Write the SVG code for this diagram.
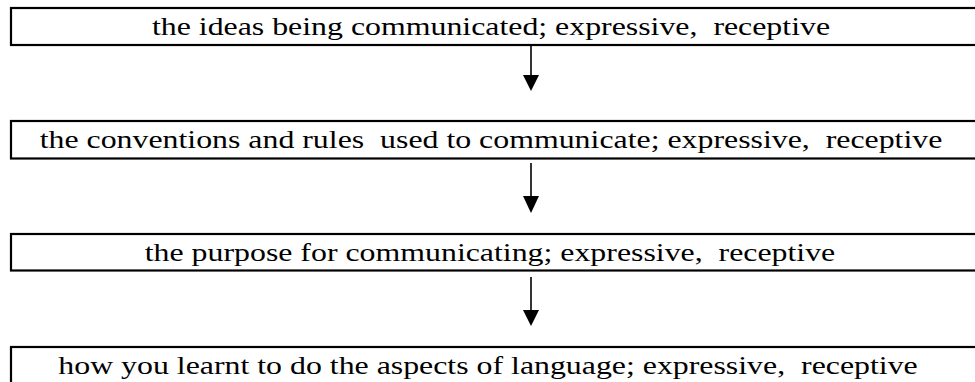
<svg xmlns="http://www.w3.org/2000/svg" width="975" height="382" viewBox="0 0 975 382">
<style>
.box{fill:#fff;stroke:#000;stroke-width:2.2}
.c{stroke:#000;stroke-width:1.6;fill:none}
.t{font-family:"Liberation Serif","Times New Roman",serif;font-size:26px;fill:#000;text-anchor:middle;white-space:pre}
</style>
<rect width="975" height="382" fill="#fff"/>
<g id="connectors">
<line class="c" x1="531" y1="42" x2="531" y2="76"/>
<path d="M523,75 L539,75 L531,91 Z" fill="#000"/>
<line class="c" x1="531" y1="163" x2="531" y2="197"/>
<path d="M523,196 L539,196 L531,213 Z" fill="#000"/>
<line class="c" x1="531" y1="277" x2="531" y2="311"/>
<path d="M523,310 L539,310 L531,326 Z" fill="#000"/>
</g>
<g id="node1">
<rect class="box" x="11" y="8" width="1000" height="37"/>
<text class="t" transform="translate(491,35) scale(1.225,1)">the ideas being communicated; expressive,  receptive</text>
</g>
<g id="node2">
<rect class="box" x="11" y="121" width="1000" height="37.5"/>
<text class="t" transform="translate(491,148) scale(1.225,1)">the conventions and rules  used to communicate; expressive,  receptive</text>
</g>
<g id="node3">
<rect class="box" x="11" y="234" width="1000" height="36.5"/>
<text class="t" transform="translate(490,261) scale(1.225,1)">the purpose for communicating; expressive,  receptive</text>
</g>
<g id="node4">
<rect class="box" x="11" y="347" width="1000" height="50"/>
<text class="t" transform="translate(488,374) scale(1.225,1)">how you learnt to do the aspects of language; expressive,  receptive</text>
</g>
</svg>
